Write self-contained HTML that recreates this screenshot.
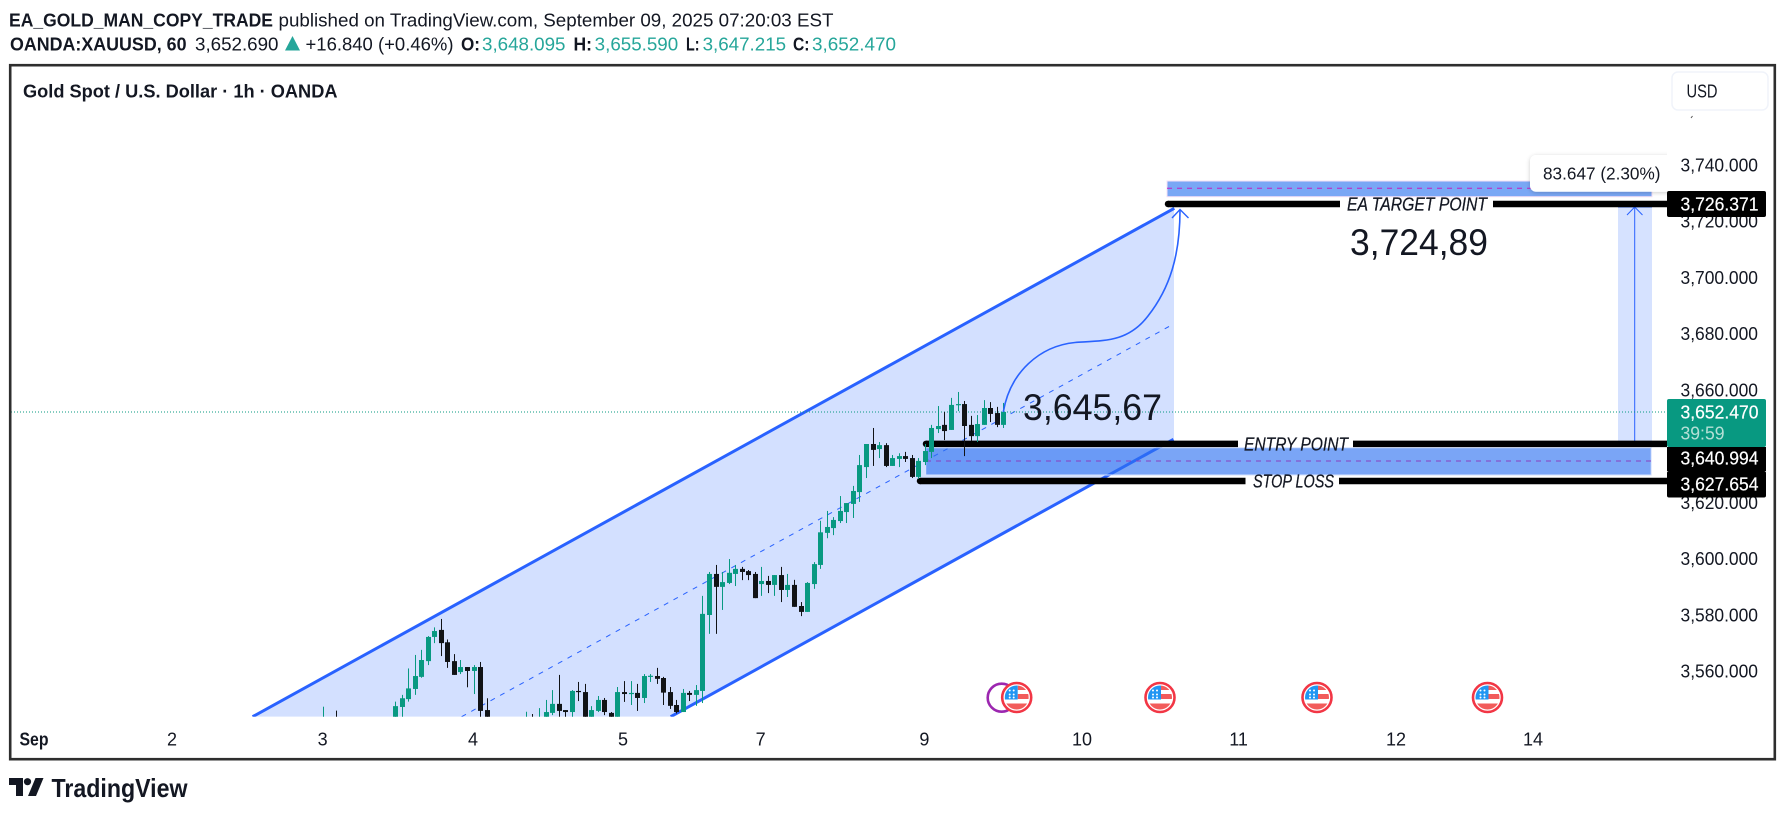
<!DOCTYPE html>
<html lang="en">
<head>
<meta charset="utf-8">
<title>Gold Spot / U.S. Dollar chart</title>
<style>
html,body{margin:0;padding:0;background:#fff;width:1785px;height:815px;overflow:hidden}
svg{display:block;font-family:"Liberation Sans",sans-serif}
text{fill:#131722}
.ax{font-size:18px}
.hd{font-size:18px}
.val{fill:#26a69a}
.lbl{font-size:18.5px;font-style:italic;fill:#131722;stroke:#131722;stroke-width:.25px}
.big{font-size:37px;fill:#131722}
.wt{fill:#fff;font-size:18px;stroke:#fff;stroke-width:.2px}
</style>
</head>
<body>
<svg id="chart" xmlns="http://www.w3.org/2000/svg" width="1785" height="815" viewBox="0 0 1785 815">
<defs>
<clipPath id="plotClip"><rect x="11" y="66" width="1656" height="650.7"/></clipPath>
<clipPath id="flagClip"><circle cx="0" cy="0" r="12"/></clipPath>
<filter id="tipShadow" x="-20%" y="-30%" width="140%" height="170%"><feDropShadow dx="0" dy="1" stdDeviation="2" flood-color="#000" flood-opacity=".2"/></filter>
<g id="usFlag">
<circle r="14.5" fill="#fff" stroke="#f23645" stroke-width="2.6"/>
<g clip-path="url(#flagClip)">
<rect x="-12" y="-12" width="24" height="24" fill="#fff"/>
<rect x="1" y="-12" width="11" height="4.5" fill="#f25b5b"/>
<rect x="1" y="-3.5" width="11" height="5" fill="#f25b5b"/>
<rect x="-12" y="6" width="24" height="6" fill="#f25b5b"/>
<rect x="-12" y="-12" width="13" height="14" fill="#2196f3"/>
<g fill="#fff"><circle cx="-7" cy="-7" r="1"/><circle cx="-3" cy="-7" r="1"/><circle cx="-7" cy="-3" r="1"/><circle cx="-3" cy="-3" r="1"/><circle cx="-7" cy="0" r="1"/><circle cx="-3" cy="0" r="1"/></g>
</g>
</g>
</defs>

<g>
<text x="9" y="26.5" font-size="18" font-weight="700" textLength="264" lengthAdjust="spacingAndGlyphs">EA_GOLD_MAN_COPY_TRADE</text>
<text x="278.5" y="26.5" class="hd" textLength="555" lengthAdjust="spacingAndGlyphs">published on TradingView.com, September 09, 2025 07:20:03 EST</text>
<text x="10" y="50.5" font-size="18" font-weight="700" textLength="176.5" lengthAdjust="spacingAndGlyphs">OANDA:XAUUSD, 60</text>
<text x="195" y="50.5" class="hd" textLength="83.5" lengthAdjust="spacingAndGlyphs">3,652.690</text>
<polygon points="292.5,36 300,50.5 285,50.5" fill="#26a69a"/>
<text x="305.5" y="50.5" class="hd" textLength="148" lengthAdjust="spacingAndGlyphs">+16.840 (+0.46%)</text>
<text x="461" y="50.5" font-size="18" font-weight="700" textLength="19" lengthAdjust="spacingAndGlyphs">O:</text>
<text x="482" y="50.5" class="hd val" textLength="83.5" lengthAdjust="spacingAndGlyphs">3,648.095</text>
<text x="573.5" y="50.5" font-size="18" font-weight="700" textLength="18.5" lengthAdjust="spacingAndGlyphs">H:</text>
<text x="594.7" y="50.5" class="hd val" textLength="83.5" lengthAdjust="spacingAndGlyphs">3,655.590</text>
<text x="686" y="50.5" font-size="18" font-weight="700" textLength="13.5" lengthAdjust="spacingAndGlyphs">L:</text>
<text x="702.6" y="50.5" class="hd val" textLength="83.5" lengthAdjust="spacingAndGlyphs">3,647.215</text>
<text x="793" y="50.5" font-size="18" font-weight="700" textLength="16.5" lengthAdjust="spacingAndGlyphs">C:</text>
<text x="812" y="50.5" class="hd val" textLength="84" lengthAdjust="spacingAndGlyphs">3,652.470</text>
</g>

<g clip-path="url(#plotClip)">
<polygon points="252.6,716.7 1174,208.3 1174,439 670.7,716.7" fill="#d3e0ff"/>
<line x1="252.6" y1="716.7" x2="1174.3" y2="208.3" stroke="#2962ff" stroke-width="3"/>
<line x1="670.7" y1="716.7" x2="1173.5" y2="439.3" stroke="#2962ff" stroke-width="3"/>
<line x1="461.6" y1="716.7" x2="1169" y2="326.5" stroke="#2962ff" stroke-width="1" stroke-dasharray="5 6"/>

<rect x="1618" y="206.7" width="34" height="235.3" fill="#d6e2ff"/>
<line x1="1618" y1="207" x2="1652" y2="207" stroke="#2962ff" stroke-width="1"/>
<line x1="1618" y1="442" x2="1652" y2="442" stroke="#2962ff" stroke-width="1"/>
<line x1="1634.7" y1="207" x2="1634.7" y2="442" stroke="#2962ff" stroke-width="1"/>
<polyline points="1627,215 1634.7,207 1642.5,215" fill="none" stroke="#2962ff" stroke-width="1"/>

<rect x="1167" y="181" width="485" height="15.7" fill="#7aa7f5" stroke="#f6e0f6" stroke-width="1"/>
<line x1="1167" y1="188.3" x2="1652" y2="188.3" stroke="#c21fc2" stroke-width="1" stroke-dasharray="5 5"/>
<rect x="925.7" y="447.7" width="725.5" height="27.3" fill="rgba(45,112,240,.63)" stroke="#d6e2fd" stroke-width="1"/>
<line x1="926" y1="461" x2="1651" y2="461" stroke="#8a3fc0" stroke-width="1" stroke-dasharray="5 5"/>

<g id="levelLines"></g>
<g id="lastPriceLine"></g>
<g id="candles"></g>

<path d="M1003.3,412 C1010,372 1040,346 1075,342.5 C1105,340.5 1128,342 1148,316 C1170,288 1180,255 1180,210" fill="none" stroke="#2962ff" stroke-width="1.6"/>
<polyline points="1172,218 1180,209.5 1188.5,218" fill="none" stroke="#2962ff" stroke-width="1.4"/>

<text x="1023" y="420" class="big" textLength="139" lengthAdjust="spacingAndGlyphs">3,645,67</text>
<text x="1350" y="255" class="big" textLength="138" lengthAdjust="spacingAndGlyphs">3,724,89</text>
<text x="1347" y="210.5" class="lbl" textLength="140" lengthAdjust="spacingAndGlyphs">EA TARGET POINT</text>
<text x="1244" y="450.5" class="lbl" textLength="104" lengthAdjust="spacingAndGlyphs">ENTRY POINT</text>
<text x="1253" y="487.5" class="lbl" textLength="81" lengthAdjust="spacingAndGlyphs">STOP LOSS</text>

<g>
<rect x="1530" y="155" width="160" height="36.7" rx="6" fill="#fff" filter="url(#tipShadow)"/>
<text x="1543" y="179.5" font-size="17.5" textLength="117.5" lengthAdjust="spacingAndGlyphs">83.647 (2.30%)</text>
</g>

<g>
<circle cx="1001.7" cy="697.7" r="14" fill="#fff" stroke="#9c27b0" stroke-width="2.6"/>
<use href="#usFlag" x="1016.7" y="697.5"/>
<use href="#usFlag" x="1160" y="697.5"/>
<use href="#usFlag" x="1317" y="697.5"/>
<use href="#usFlag" x="1487.5" y="697.5"/>
</g>
</g>

<g id="priceAxis"></g>
<line x1="1691" y1="118" x2="1692.5" y2="116" stroke="#555" stroke-width="1"/>

<g>
<rect x="1667" y="191" width="99" height="26" rx="2" fill="#000"/>
<text x="1680.5" y="210.5" class="wt" textLength="78" lengthAdjust="spacingAndGlyphs">3,726.371</text>
<rect x="1667" y="399" width="99" height="48" rx="2" fill="#089981"/>
<text x="1680.5" y="418.5" class="wt" textLength="78" lengthAdjust="spacingAndGlyphs">3,652.470</text>
<text x="1680.5" y="439.5" font-size="18" style="fill:#b5e0d6" textLength="44" lengthAdjust="spacingAndGlyphs">39:59</text>
<rect x="1667" y="447" width="99" height="24" fill="#000"/>
<text x="1680.5" y="464.5" class="wt" textLength="78" lengthAdjust="spacingAndGlyphs">3,640.994</text>
<rect x="1667" y="471" width="99" height="26.5" rx="2" fill="#000"/>
<text x="1680.5" y="490.5" class="wt" textLength="78" lengthAdjust="spacingAndGlyphs">3,627.654</text>
</g>

<g>
<text x="23" y="97.5" font-size="18" font-weight="700" textLength="314.5" lengthAdjust="spacingAndGlyphs">Gold Spot / U.S. Dollar · 1h · OANDA</text>
</g>

<g>
<rect x="1672" y="72" width="96" height="38" rx="6" fill="#fff" stroke="#f0f3fa" stroke-width="1.5"/>
<text x="1686.5" y="97.5" font-size="18" textLength="31" lengthAdjust="spacingAndGlyphs">USD</text>
</g>

<g class="ax" text-anchor="middle">
<text x="34" y="745.5" font-weight="700" class="ax" textLength="29" lengthAdjust="spacingAndGlyphs">Sep</text>
<text x="172" y="745.5">2</text>
<text x="322.6" y="745.5">3</text>
<text x="473" y="745.5">4</text>
<text x="623" y="745.5">5</text>
<text x="760.6" y="745.5">7</text>
<text x="924.4" y="745.5">9</text>
<text x="1082" y="745.5">10</text>
<text x="1238.6" y="745.5">11</text>
<text x="1396" y="745.5">12</text>
<text x="1533" y="745.5">14</text>
</g>

<rect x="10.2" y="65.2" width="1764.6" height="694" fill="none" stroke="#2e2e2e" stroke-width="2.6"/>

<g>
<path d="M9 778h14v18h-7v-11h-7z" fill="#131722"/>
<circle cx="27.5" cy="781.7" r="3.6" fill="#131722"/>
<path d="M35.5 778h8l-7.5 18h-8z" fill="#131722"/>
<text x="51.5" y="797" font-size="26" font-weight="700" textLength="136" lengthAdjust="spacingAndGlyphs">TradingView</text>
</g>
</svg>

<script>
const opens=[3535,3536,3541,3534,3535,3536,3535,3534,3535,3536,3537,3537,3547.3,3550.1,3553.7,3558,3563.6,3572.2,3574.7,3570.3,3563.6,3559.7,3561.5,3560.1,3561.5,3546.2,3540,3537,3535,3536,3535,3535,3541,3536,3538,3545.2,3548.4,3546.2,3545.5,3553,3552.6,3542,3545.9,3549.8,3545.2,3540,3552.6,3552,3552.3,3550.5,3558.2,3558.3,3557.6,3552.6,3548,3545.5,3552.3,3551.6,3553,3580,3594.6,3590,3591.4,3594.6,3596.4,3595.6,3594.6,3591,3592.1,3590.7,3594.2,3588.9,3590.7,3583.2,3581.1,3591,3597.8,3609.2,3610.9,3613.4,3616.6,3619.5,3623.7,3632.6,3640.8,3639,3640.4,3633,3635.5,3636.5,3635.8,3629.1,3634.4,3638,3646.1,3647.6,3645.8,3654.7,3655,3647.6,3643.6,3647.6,3653.6,3651.8,3647.6];
const highs=[3547.4,3542,3546,3540,3540,3541,3540,3540,3541,3541,3542,3549.2,3551.6,3561,3565.8,3567.6,3572.5,3575.6,3578.6,3571.3,3566.1,3564,3561.5,3562.2,3563.3,3550.4,3541,3541,3540,3540,3541,3545.6,3544.8,3546.9,3549.8,3553.3,3558.7,3546.2,3553.3,3556.2,3555.5,3547.6,3551.2,3550.5,3545.5,3554.4,3556.5,3556.5,3555.5,3559,3559,3561.2,3558,3554.4,3549.8,3553.7,3553,3555.1,3586.8,3595.3,3597.8,3595.3,3599.9,3597.8,3597.1,3596,3595.3,3597.1,3593.9,3594.2,3597.1,3594.6,3592.5,3584.6,3591.7,3598.8,3613.5,3617,3614.8,3622.3,3619.8,3625.9,3636.9,3640.8,3646.5,3641.5,3641.1,3636.9,3637.5,3638,3636.9,3635.8,3640.8,3647.6,3654.3,3652.2,3657.2,3659.3,3656.1,3650.8,3651.1,3656.4,3655.7,3654,3655.4];
const lows=[3530,3532,3530,3530,3531,3532,3530,3530,3531,3532,3533,3536,3540,3549.2,3551.6,3557.7,3562.2,3570,3565.4,3561.2,3558.7,3559,3554.3,3551.9,3538,3535,3534,3532,3531,3532,3531,3532,3533,3533,3535,3544.4,3538,3540,3538,3549.4,3538,3538,3545.5,3544.4,3540,3536,3549.1,3548,3545.9,3548.7,3556.2,3555.5,3548,3546.6,3545,3545.5,3549.4,3547.7,3548.7,3573.3,3573.3,3581.8,3591,3590.3,3592.4,3592.4,3586,3586.8,3587.8,3586.8,3584.6,3586.4,3582.9,3579.6,3581.1,3589.3,3596.4,3607.3,3608.4,3612.7,3612.7,3614.5,3620.2,3628.7,3633,3635.8,3632.6,3633,3632.6,3634.4,3628.7,3628.4,3633.3,3635.8,3644.7,3642.2,3645.8,3652.5,3636.5,3641.9,3641.5,3647.6,3648.6,3646.8,3646.5];
const closes=[3540,3535,3536,3537,3538,3537,3538,3536,3537,3538,3539,3547.6,3550.4,3553.9,3558.3,3564,3572.2,3574.3,3570,3563.3,3558.7,3561.5,3560.1,3561.5,3545.9,3540,3537,3535,3536,3535,3536,3541,3536,3541.5,3545.5,3548.4,3545.9,3545.5,3553,3552.6,3541,3546.2,3549.8,3545.5,3542,3552.6,3551.9,3552.3,3550.5,3558.3,3558.4,3557.3,3552.4,3547.7,3545.5,3552.3,3551.6,3553.3,3580.4,3594.6,3590,3591.7,3595,3596.4,3595.3,3594.2,3586,3592.1,3590.7,3594.2,3588.9,3590.7,3582.9,3581.1,3591.4,3598.1,3609.4,3611.3,3613.8,3617,3619.8,3624.1,3633.3,3640.8,3638.7,3640.4,3633,3635.8,3636.5,3635.5,3629.1,3634.8,3638.3,3646.5,3647.2,3645.4,3654.7,3655,3647.2,3643.6,3647.9,3653.6,3651.5,3647.6,3652.2];
const priceTicks=[3740,3720,3700,3680,3660,3620,3600,3580,3560];
const tickLabels=["3,740.000","3,720.000","3,700.000","3,680.000","3,660.000","3,620.000","3,600.000","3,580.000","3,560.000"];
const levelPrices=[3726.15,3640.85,3627.65];
const levelNames=["target-level-line","entry-level-line","stop-level-line"];

const NS="http://www.w3.org/2000/svg";
function yOf(p){return 390+(3660-p)*2.8125;}
function xOf(i){return 1003.3-(opens.length-1-i)*6.54;}
function make(tag,attrs,parent){
  const el=document.createElementNS(NS,tag);
  for(const k in attrs){el.setAttribute(k,attrs[k]);}
  parent.appendChild(el);
  return el;
}

const levelStarts=[1168,926,920];
const levelGaps=[[1340,1493],[1238,1353],[1245.5,1339]];
const levelHost=document.getElementById("levelLines");
levelPrices.forEach(function(p,i){
  const ly=yOf(p);
  const cap=make("circle",{cx:levelStarts[i],cy:ly,r:3.25,fill:"#000"},levelHost);
  
  
  const a=make("line",{x1:levelStarts[i],y1:ly,x2:levelGaps[i][0],y2:ly,stroke:"#000","stroke-width":6.5},levelHost);
  
  
  const b=make("line",{x1:levelGaps[i][1],y1:ly,x2:1667,y2:ly,stroke:"#000","stroke-width":6.5},levelHost);
  
  
});

const lastY=yOf(closes[closes.length-1]);
const dotted=make("line",{x1:11,y1:lastY,x2:1667,y2:lastY,stroke:"#089981","stroke-width":1,"stroke-dasharray":"1 2"},document.getElementById("lastPriceLine"));



const candleHost=document.getElementById("candles");
opens.forEach(function(o,i){
  const c=closes[i];
  const up=c>=o;
  const col=up?"#089981":"#111316";
  const px=Math.round(xOf(i));
  const g=make("g",{},candleHost);
  
  
  const top=yOf(highs[i]);
  const bot=yOf(lows[i]);
  make("rect",{x:px,y:top,width:1,height:Math.max(bot-top,1),fill:col},g);
  const bt=yOf(Math.max(o,c));
  const bb=yOf(Math.min(o,c));
  make("rect",{x:px-2,y:bt,width:5,height:Math.max(bb-bt,1.2),fill:col},g);
});

const axisHost=document.getElementById("priceAxis");
const axisBg=make("rect",{x:1667,y:66,width:107,height:650.7,fill:"#fff"},axisHost);


priceTicks.forEach(function(p,i){
  const t=make("text",{x:1680.5,y:yOf(p)+6.3,"font-size":18,textLength:77.5,lengthAdjust:"spacingAndGlyphs"},axisHost);
  t.textContent=tickLabels[i];
  
  
});
</script>
</body>
</html>
